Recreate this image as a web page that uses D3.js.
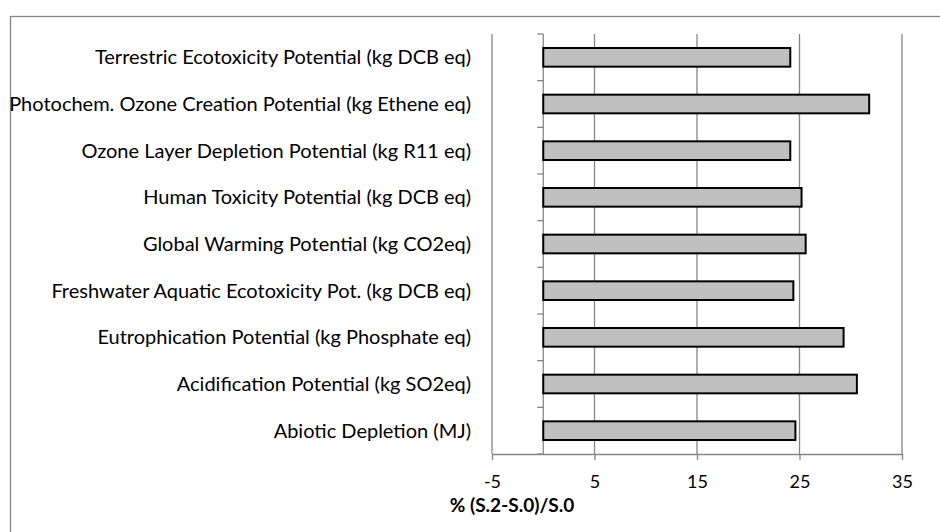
<!DOCTYPE html>
<html lang="en">
<head>
  <meta charset="utf-8">
  <title>% (S.2-S.0)/S.0</title>
  <script src="https://d3js.org/d3.v7.min.js"></script>
  <style>
    body { margin: 0; background: #fff; }
    text { font-family: Lato, "Liberation Sans", sans-serif; fill: #000; }
  </style>
</head>
<body>
  <div id="chart"></div>

  <script>
    "use strict"

    // categorias de baixo para cima (como no Excel)
    var categorias = [
      "Abiotic Depletion (MJ)",
      "Acidification Potential (kg SO2eq)",
      "Eutrophication Potential (kg Phosphate eq)",
      "Freshwater Aquatic Ecotoxicity Pot. (kg DCB eq)",
      "Global Warming Potential (kg CO2eq)",
      "Human Toxicity Potential (kg DCB eq)",
      "Ozone Layer Depletion Potential (kg R11 eq)",
      "Photochem. Ozone Creation Potential (kg Ethene eq)",
      "Terrestric Ecotoxicity Potential (kg DCB eq)"
    ];
    var valores = [24.6, 30.6, 29.3, 24.4, 25.6, 25.2, 24.1, 31.8, 24.1];
    var ticksX = [-5, 5, 15, 25, 35];
    var tituloX = "% (S.2-S.0)/S.0";

    var larguraSVG = 940, alturaSVG = 532;
    var margem = {top: 34, direita: 38, bottom: 78, esquerda: 492},
        larguraVis = larguraSVG - margem.esquerda - margem.direita,
        alturaVis = alturaSVG - margem.top - margem.bottom;

    var svg = d3.select("#chart").append("svg")
        .attr("width", larguraSVG)
        .attr("height", alturaSVG);

    // borda da area do grafico
    svg.append("rect")
        .attr("x", 10.5).attr("y", 16.5)
        .attr("width", 940).attr("height", 540)
        .attr("fill", "none")
        .attr("stroke", "#868686")
        .attr("stroke-width", 1.3);

    var grafico = svg.append("g")
        .attr("transform", "translate(" + margem.esquerda + "," + margem.top + ")");

    var x = d3.scaleLinear().domain([-5, 35]).range([0, larguraVis]);
    var y = d3.scaleBand()
        .domain(categorias.slice().reverse())
        .range([0, alturaVis])
        .paddingInner(0.6).paddingOuter(0.3);

    // linhas de grade verticais
    grafico.selectAll(".grade")
        .data(ticksX)
        .enter().append("line")
        .attr("class", "grade")
        .attr("x1", d => x(d)).attr("x2", d => x(d))
        .attr("y1", 0).attr("y2", alturaVis)
        .attr("stroke", "#868686")
        .attr("stroke-width", 1.3);

    // eixo x
    var eixoX = grafico.append("g")
        .attr("transform", "translate(0," + alturaVis + ")")
        .call(d3.axisBottom(x).tickValues(ticksX).tickSize(6).tickPadding(15).tickFormat(d => String(d)));
    eixoX.selectAll("line, path").attr("stroke", "#868686").attr("stroke-width", 1.3);
    eixoX.select(".domain").attr("d", "M0,0.5H" + larguraVis);
    eixoX.selectAll("text").style("font-size", "18px").attr("fill", "#000");

    // eixo de categorias em zero, com marcas entre as faixas
    var passo = alturaVis / categorias.length;
    var eixoY = grafico.append("g").attr("transform", "translate(" + x(0) + ",0)");
    eixoY.append("line")
        .attr("y1", 0).attr("y2", alturaVis)
        .attr("stroke", "#868686").attr("stroke-width", 1.3);
    eixoY.selectAll(".marca")
        .data(d3.range(categorias.length + 1))
        .enter().append("line")
        .attr("class", "marca")
        .attr("x1", -6).attr("x2", 0)
        .attr("y1", d => d * passo).attr("y2", d => d * passo)
        .attr("stroke", "#868686").attr("stroke-width", 1.3);

    // barras
    grafico.selectAll(".barra")
        .data(valores)
        .enter().append("rect")
        .attr("class", "barra")
        .attr("x", x(0))
        .attr("y", (d, i) => y(categorias[i]))
        .attr("width", d => x(d) - x(0))
        .attr("height", y.bandwidth())
        .attr("fill", "#c0c0c0")
        .attr("stroke", "#000")
        .attr("stroke-width", 2);

    // rotulos das categorias (a esquerda da area de plotagem)
    grafico.selectAll(".rotulo")
        .data(categorias)
        .enter().append("text")
        .attr("class", "rotulo")
        .attr("x", -21)
        .attr("y", d => y(d) + y.bandwidth() / 2)
        .attr("dy", "0.35em")
        .attr("text-anchor", "end")
        .style("font-size", "20px")
        .text(d => d);

    // titulo do eixo x
    svg.append("text")
        .attr("x", 512)
        .attr("y", 512)
        .attr("text-anchor", "middle")
        .style("font-size", "19px")
        .style("font-weight", "bold")
        .text(tituloX);
  </script>
</body>
</html>
